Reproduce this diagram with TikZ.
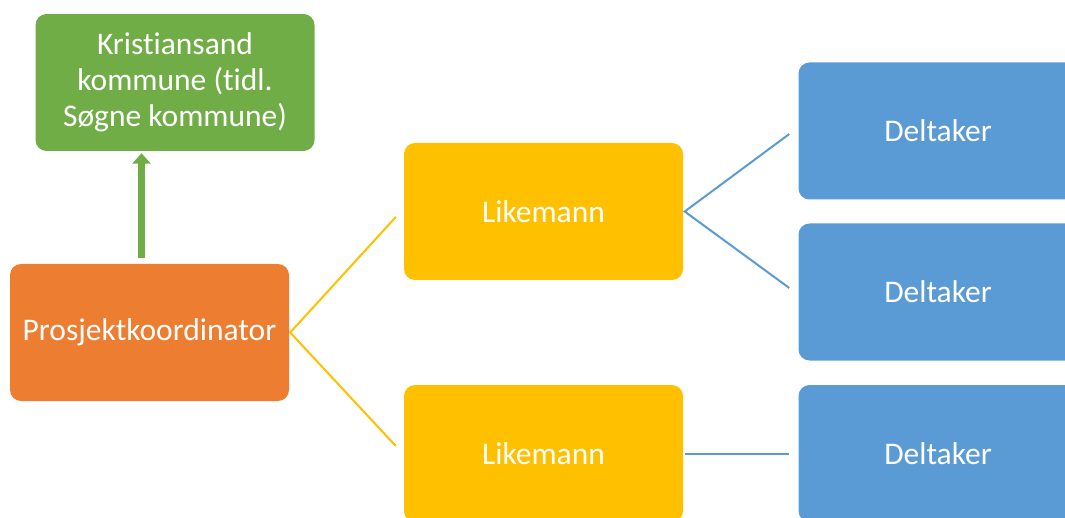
\documentclass[tikz,border=0pt]{standalone}
\usepackage{fontspec}
\setmainfont{Carlito}[Ligatures=NoCommon]
\usetikzlibrary{arrows.meta}

\definecolor{kgreen}{HTML}{70AD47}
\definecolor{korange}{HTML}{ED7D31}
\definecolor{kyellow}{HTML}{FFC000}
\definecolor{kblue}{HTML}{5B9BD5}

\begin{document}
\begin{tikzpicture}[x=1pt,y=-1pt,
    box/.style={rounded corners=11pt, minimum width=279pt, minimum height=137pt,
      inner sep=4pt, text=white, align=center, font=\fontsize{31.5}{36}\selectfont},
    link/.style={line width=2pt},
    uparrow/.style={kgreen, line width=7.5pt, -{Triangle[width=18pt,length=10.5pt]}}]
  \useasboundingbox (0,0) rectangle (1065,518);

  %% boxes
  \node[box, fill=kgreen] (kommune) at (175,82.5) {Kristiansand\\kommune (tidl.\\Søgne kommune)};
  \node[box, fill=korange] (koord) at (149.5,332.5) {Prosjektkoordinator};
  \node[box, fill=kyellow] (lik1) at (543.5,211.5) {Likemann};
  \node[box, fill=kyellow] (lik2) at (543.5,453.5) {Likemann};
  \node[box, fill=kblue] (delt1) at (938,131) {Deltaker};
  \node[box, fill=kblue] (delt2) at (938,292) {Deltaker};
  \node[box, fill=kblue] (delt3) at (938,453.5) {Deltaker};

  %% reports to
  \draw[uparrow] ([xshift=-8pt,yshift=6pt]koord.north)
    -- ([xshift=-8pt,yshift=-2pt]koord.north |- kommune.south);

  %% lines out to the right
  \draw[link, kyellow] ([xshift=-8pt,yshift=-5.5pt]lik1.west) -- ([xshift=1pt]koord.east)
    -- ([xshift=-8pt,yshift=7.5pt]lik2.west);
  \draw[link, kblue] ([xshift=-9pt,yshift=-3pt]delt1.west) -- ([xshift=1.5pt]lik1.east)
    -- ([xshift=-9pt,yshift=4pt]delt2.west);
  \draw[link, kblue] ([xshift=1.5pt]lik2.east) -- ([xshift=-9pt]delt3.west);
\end{tikzpicture}
\end{document}
